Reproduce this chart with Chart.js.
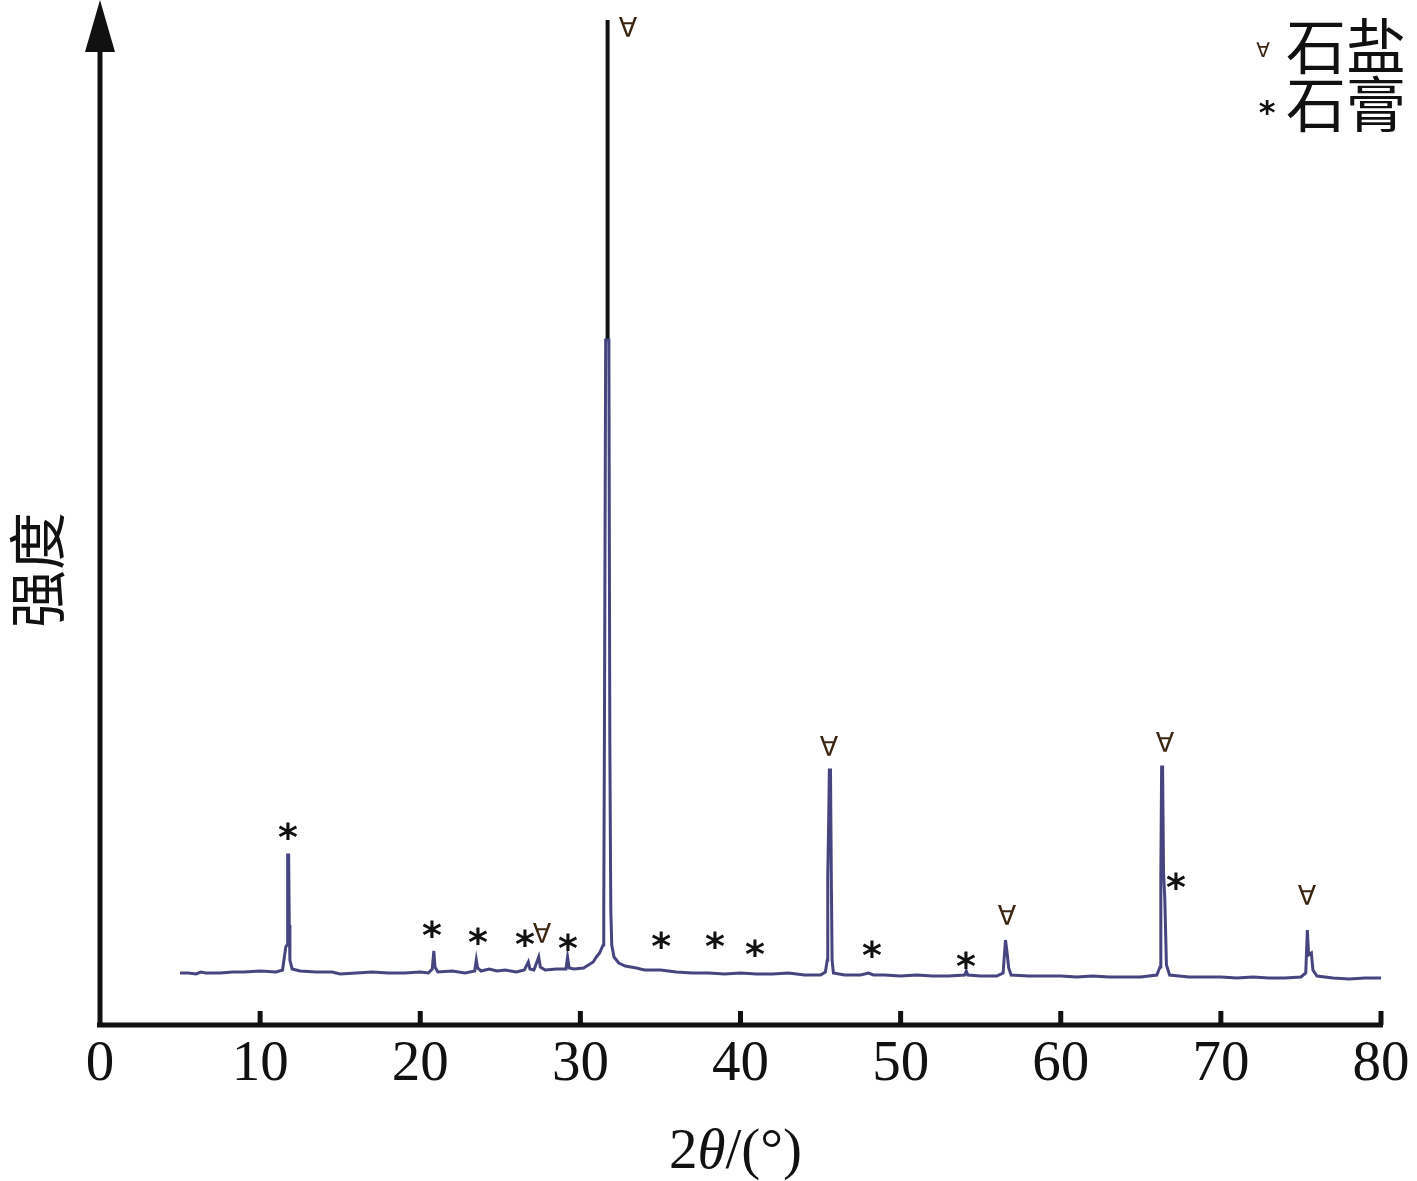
<!DOCTYPE html>
<html>
<head>
<meta charset="utf-8">
<script src="https://cdn.jsdelivr.net/npm/chart.js@4"></script>
<style>
html,body{margin:0;padding:0;background:#fff;}
#wrap{width:1417px;height:1181px;}
</style>
</head>
<body>
<div id="wrap"><canvas id="c" width="1417" height="1181"></canvas></div>
<script>
// ---- data ----
const twoTheta = [5.0,5.5,6.0,6.3,6.6,7.5,8.3,9.0,10.0,11.0,11.4,11.6,11.68,11.72,11.78,11.82,11.86,12.0,12.5,13.5,14.5,15.0,16.0,17.0,18.0,19.0,20.0,20.5,20.75,20.85,20.92,21.1,22.0,22.8,23.4,23.5,23.58,23.8,24.3,24.8,25.3,26.0,26.5,26.75,26.85,27.1,27.4,27.5,27.8,28.5,29.1,29.2,29.3,29.6,30.2,30.5,30.8,31.0,31.2,31.42,31.46,31.5,31.58,31.62,31.78,31.84,31.9,31.96,32.1,32.4,32.8,33.5,34.0,35.0,36.0,37.0,38.0,39.0,40.0,41.0,42.0,43.0,44.0,45.0,45.3,45.42,45.45,45.5,45.55,45.62,45.67,45.72,45.8,46.5,47.5,48.0,48.3,49.0,50.0,51.0,52.0,53.0,54.0,54.1,54.2,55.0,56.0,56.4,56.55,56.65,56.75,56.9,58.0,59.0,60.0,61.0,62.0,63.0,64.0,65.0,66.0,66.2,66.25,66.3,66.36,66.42,66.5,66.6,66.8,68.0,69.0,70.0,71.0,72.0,73.0,74.0,75.0,75.3,75.4,75.48,75.65,75.75,76.0,77.0,78.0,79.0,80.0];
const intensity = [52,52,51,53,52,52,53,53,54,53,55,78,80,170,170,100,65,56,54,53,53,51,52,53,52,52,53,52,56,74,58,53,54,52,54,65,57,54,56,54,55,53,55,63,56,55,68,58,55,56,56,68,57,56,57,60,63,68,72,80,115,280,685,685,685,280,115,80,68,62,59,57,55,55,53,52,52,51,52,51,51,52,50,50,53,65,150,197,255,255,150,65,52,50,50,52,50,50,49,50,49,49,50,54,50,49,49,52,85,72,57,50,49,49,49,48,49,48,48,48,50,58,150,258,258,152,125,60,50,48,48,48,47,48,47,47,48,52,95,70,72,55,49,47,46,47,47];
// black top segment of the main peak
const mainPeakTopX = [31.7, 31.7];
const mainPeakTopY = [685, 1005];
// phase marks (x in degrees, y in intensity units)
const gypsumX = [11.74,20.73,23.61,26.54,29.23,35.04,38.41,40.9,48.21,54.08,67.2];
const gypsumY = [193,95,88,86,82,84,84,76,75,64,143];
const haliteX = [27.6,32.97,45.53,56.64,66.51,75.38];
const haliteY = [89,995,276,107,280,127];
const xTicks = [0,10,20,30,40,50,60,70,80];
const legendLabels = ['石盐','石膏'];
const yTitle = '强度';

const pts = twoTheta.map((x,i)=>({x:x,y:intensity[i]}));
const topPts = mainPeakTopX.map((x,i)=>({x:x,y:mainPeakTopY[i]}));

const deco = {
  id:'deco',
  afterDraw(chart){
    const ctx = chart.ctx, xs = chart.scales.x, ys = chart.scales.y, ca = chart.chartArea;
    ctx.save();
    ctx.strokeStyle = '#111'; ctx.fillStyle = '#111';
    ctx.lineWidth = 5; ctx.lineCap = 'butt';
    // x axis
    ctx.beginPath(); ctx.moveTo(ca.left-3, ca.bottom); ctx.lineTo(ca.right+2, ca.bottom); ctx.stroke();
    // y axis
    ctx.beginPath(); ctx.moveTo(ca.left, ca.bottom+2); ctx.lineTo(ca.left, 40); ctx.stroke();
    // arrow head
    ctx.beginPath(); ctx.moveTo(ca.left, 0); ctx.lineTo(ca.left-15, 52); ctx.lineTo(ca.left+15, 52); ctx.closePath(); ctx.fill();
    // ticks + labels
    ctx.font = '57px "Liberation Serif"'; ctx.textAlign = 'center'; ctx.textBaseline = 'top';
    xTicks.forEach(v=>{
      const px = xs.getPixelForValue(v);
      if (v !== 0) { ctx.beginPath(); ctx.moveTo(px, ca.bottom); ctx.lineTo(px, ca.bottom-14); ctx.stroke(); }
      ctx.fillText(String(v), px, ca.bottom+12);
    });
    // x title: 2θ/(°)
    const cx = xs.getPixelForValue(40) - 5;
    const parts = [['2','57px "Liberation Serif"'],['θ','italic 57px "Liberation Serif"'],['/(°)','57px "Liberation Serif"']];
    let tw = 0; parts.forEach(p=>{ctx.font=p[1]; tw += ctx.measureText(p[0]).width;});
    let sx = cx - tw/2; ctx.textAlign='left'; ctx.textBaseline='alphabetic';
    parts.forEach(p=>{ctx.font=p[1]; ctx.fillText(p[0], sx, 1168); sx += ctx.measureText(p[0]).width;});
    // y title
    ctx.save(); ctx.translate(37, 570); ctx.rotate(-Math.PI/2);
    ctx.font = '58px "Noto Sans CJK SC"'; ctx.textAlign='center'; ctx.textBaseline='middle';
    ctx.fillText(yTitle, 0, 0); ctx.restore();
    // marks
    const drawHalite = (px,py,size)=>{
      ctx.font = size+'px "DejaVu Sans"'; ctx.fillStyle = '#3b2612'; ctx.textAlign='center'; ctx.textBaseline='middle';
      ctx.fillText('∀', px, py);
    };
    const drawGyp = (px,py,size)=>{
      ctx.font = 'bold '+size+'px "DejaVu Sans"'; ctx.fillStyle = '#111'; ctx.textAlign='center'; ctx.textBaseline='middle';
      ctx.fillText('*', px, py + size*0.22);
    };
    haliteX.forEach((x,i)=>drawHalite(xs.getPixelForValue(x), ys.getPixelForValue(haliteY[i]), 27));
    gypsumX.forEach((x,i)=>drawGyp(xs.getPixelForValue(x), ys.getPixelForValue(gypsumY[i]), 38));
    // legend
    drawHalite(1263, 52, 20);
    drawGyp(1267, 108, 32);
    ctx.fillStyle = '#111'; ctx.font = '60px "Noto Sans CJK SC"'; ctx.textAlign='left'; ctx.textBaseline='middle';
    ctx.fillText(legendLabels[0], 1286, 46);
    ctx.fillText(legendLabels[1], 1286, 104);
    ctx.restore();
  }
};

new Chart(document.getElementById('c'), {
  type: 'line',
  data: { datasets: [
    { data: pts, borderColor: '#47457f', borderWidth: 3, pointRadius: 0, tension: 0, fill: false },
    { data: topPts, borderColor: '#111', borderWidth: 4, pointRadius: 0, tension: 0, fill: false }
  ]},
  options: {
    responsive: false, animation: false, devicePixelRatio: 1,
    layout: { padding: { left: 100, right: 36, top: 0, bottom: 156 } },
    plugins: { legend: { display: false }, tooltip: { enabled: false } },
    scales: {
      x: { type: 'linear', min: 0, max: 80, display: false },
      y: { type: 'linear', min: 0, max: 1025, display: false }
    }
  },
  plugins: [deco]
});
</script>
</body>
</html>
